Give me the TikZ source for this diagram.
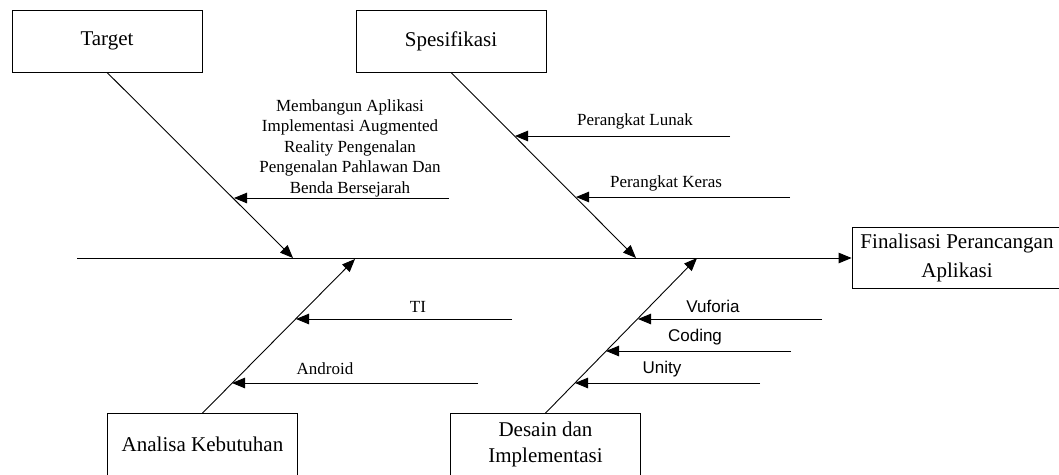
\documentclass[tikz,border=0pt]{standalone}
\usepackage{fontspec}
\setmainfont{Liberation Serif}
\newfontfamily\arialfont{Liberation Sans}
\usetikzlibrary{arrows.meta}
\tikzset{box/.style={draw, line width=0.8pt, minimum width=190pt, minimum height=62pt, inner sep=2pt, align=center, font=\fontsize{21}{26.5}\selectfont},
         lbl/.style={inner sep=0pt, align=center, font=\fontsize{17}{20.5}\selectfont},
         sanslbl/.style={inner sep=0pt, font=\arialfont\fontsize{17}{20}\selectfont},
         arr/.style={-{Triangle[length=13pt,width=10.5pt]}, line width=0.9pt}}

\begin{document}
\begin{tikzpicture}[x=1pt,y=-1pt]
\useasboundingbox (0,0) rectangle (1059,474);
% the boxes
\node[box] (target) at (107,41) {Target};
\node[box] (spec) at (451,41) {Spesifikasi};
\node[box] (needs) at (202.5,444.5) {Analisa Kebutuhan};
\node[box] (design) at (545.5,444.5) {Desain dan\\Implementasi};
\node[box, minimum width=210pt, minimum height=61pt, font=\fontsize{21}{29}\selectfont] (final) at (957,258) {Finalisasi Perancangan\\Aplikasi};
% the spine and the bones
\coordinate (spine) at (77,258);
\draw[arr] (spine) -- (final);
\coordinate (t-head) at (293,258);
\coordinate (s-head) at (636,258);
\coordinate (n-head) at (355,259);
\coordinate (d-head) at (697,258);
\draw[arr] (target.south) -- (t-head);
\draw[arr] (spec.south) -- (s-head);
\draw[arr] (needs.north) -- (n-head);
\draw[arr] (design.north) -- (d-head);
% the small arrows
\foreach \nm/\xa/\xb/\yy in {goal/449/234/198, soft/730/515/136, hard/790/576/197,
    ti/512/296/319, andr/478/232/383, vuf/822/638/319, code/791/606/351, unity/760/575/383}
{
  \coordinate (\nm-a) at (\xa,\yy);
  \coordinate (\nm-b) at (\xb,\yy);
  \draw[arr] (\nm-a) -- (\nm-b);
}
% the labels
\node[lbl] (goal) at (350,148) {Membangun Aplikasi\\Implementasi Augmented\\Reality Pengenalan\\Pengenalan Pahlawan Dan\\Benda Bersejarah};
\node[lbl] (soft) at (635,121) {Perangkat Lunak};
\node[lbl] (hard) at (666,183) {Perangkat Keras};
\node[lbl] (ti) at (418,307) {TI};
\node[lbl] (andr) at (325,369) {Android};
\node[sanslbl] (vuf) at (713,306) {Vuforia};
\node[sanslbl] (code) at (695,337) {Coding};
\node[sanslbl] (unity) at (662,369) {Unity};
\end{tikzpicture}
\end{document}
